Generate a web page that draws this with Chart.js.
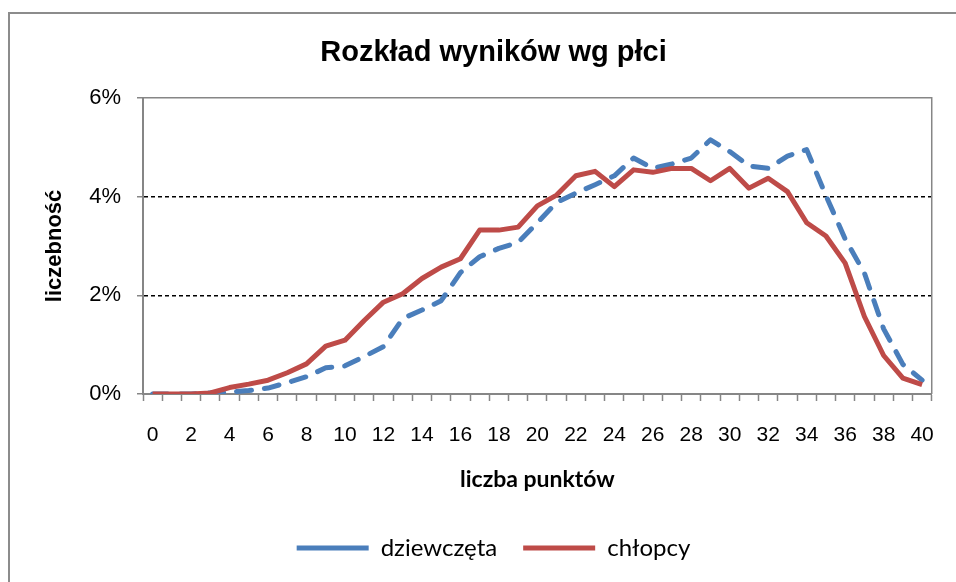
<!DOCTYPE html>
<html>
<head>
<meta charset="utf-8">
<script src="https://cdn.jsdelivr.net/npm/chart.js@4"></script>
<style>
  html, body { margin: 0; padding: 0; background: #fff; }
  #wrap { width: 956px; height: 582px; }
</style>
</head>
<body>
<div id="wrap"><canvas id="myChart" width="956" height="582"></canvas></div>
<script>
const points = [];
for (let i = 0; i <= 40; i++) points.push(String(i));

const girls = [0, 0, 0, 0.02, 0.04, 0.07, 0.12, 0.23, 0.35, 0.53,
    0.57, 0.76, 0.96, 1.53, 1.70, 1.89, 2.46, 2.78, 2.95, 3.07,
    3.47, 3.88, 4.07, 4.24, 4.42, 4.78, 4.57, 4.66, 4.78, 5.15,
    4.91, 4.62, 4.57, 4.82, 4.95, 4.02, 3.14, 2.45, 1.32, 0.60, 0.28];

const boys = [0, 0, 0, 0.02, 0.13, 0.20, 0.28, 0.43, 0.61, 0.97,
    1.09, 1.49, 1.86, 2.03, 2.34, 2.57, 2.74, 3.32, 3.32, 3.38,
    3.81, 4.03, 4.42, 4.51, 4.20, 4.54, 4.49, 4.57, 4.57, 4.32,
    4.57, 4.17, 4.37, 4.10, 3.47, 3.20, 2.65, 1.57, 0.78, 0.32, 0.19];

const yTicks = [0, 2, 4, 6];

const blue = '#4A7EBB';
const red = '#BE4B48';
const axisGray = '#868686';

// frame round the whole chart and the plot area
const frames = {
    id: 'frames',
    beforeDraw(chart) {
        const c = chart.ctx;
        c.save();
        c.fillStyle = '#fff';
        c.fillRect(0, 0, chart.width, chart.height);
        c.strokeStyle = '#8c8c8c';
        c.lineWidth = 2;
        c.strokeRect(9, 13, 1000, 1000);
        c.restore();
    },
    beforeDatasetsDraw(chart) {
        const a = chart.chartArea;
        const c = chart.ctx;
        c.save();
        c.strokeStyle = axisGray;
        c.lineWidth = 1.5;
        c.beginPath();
        c.moveTo(a.left, a.top);
        c.lineTo(a.right, a.top);
        c.lineTo(a.right, a.bottom);
        c.stroke();
        c.restore();
    }
};

const data = {
    labels: points,
    datasets: [{
        label: 'chłopcy',
        data: boys,
        borderColor: red,
        backgroundColor: red,
        borderWidth: 5,
        borderJoinStyle: 'round',
        pointRadius: 0,
        fill: false
    }, {
        label: 'dziewczęta',
        data: girls,
        borderColor: blue,
        backgroundColor: blue,
        borderWidth: 5,
        borderDash: [15, 13],
        borderCapStyle: 'round',
        borderJoinStyle: 'round',
        pointRadius: 0,
        fill: false
    }]
};

const config = {
    type: 'line',
    data: data,
    plugins: [frames],
    options: {
        responsive: false,
        animation: false,
        layout: {
            padding: { left: 48, right: 17, top: 0, bottom: 12 }
        },
        plugins: {
            title: {
                display: true,
                text: 'Rozkład wyników wg płci',
                color: '#000',
                font: { family: 'Liberation Sans, Arial', size: 29, weight: 'bold', lineHeight: 1.2 },
                padding: { top: 36, bottom: 27 }
            },
            legend: {
                position: 'bottom',
                labels: {
                    usePointStyle: true,
                    pointStyle: 'line',
                    pointStyleWidth: 72,
                    boxHeight: 20,
                    padding: 26,
                    color: '#000',
                    font: { family: 'Lato, Open Sans', size: 24 },
                    sort: (a, b) => b.datasetIndex - a.datasetIndex
                }
            },
            tooltip: { enabled: false }
        },
        scales: {
            x: {
                offset: true,
                afterFit: (scale) => { scale.height = 116; },
                grid: {
                    offset: true,
                    drawOnChartArea: false,
                    tickLength: 7,
                    tickColor: axisGray,
                    tickWidth: 1.5
                },
                border: { color: axisGray, width: 2 },
                ticks: {
                    autoSkip: false,
                    maxRotation: 0,
                    padding: 22,
                    color: '#000',
                    font: { family: 'Liberation Sans, Arial', size: 21 },
                    callback: function (v, i) {
                        return i % 2 === 0 ? this.getLabelForValue(v) : '';
                    }
                },
                title: {
                    display: true,
                    text: 'liczba punktów',
                    color: '#000',
                    font: { family: 'Lato, Open Sans', size: 23, weight: 'bold', lineHeight: 1.2 },
                    padding: { top: 0, bottom: 17 }
                }
            },
            y: {
                min: 0,
                max: 6,
                afterFit: (scale) => { scale.width = 95; },
                afterBuildTicks: (scale) => { scale.ticks = yTicks.map(v => ({ value: v })); },
                grid: {
                    color: (ctx) => (ctx.tick && (ctx.tick.value === 2 || ctx.tick.value === 4)) ? '#000' : 'rgba(0,0,0,0)',
                    lineWidth: 1.5,
                    tickLength: 6,
                    tickColor: axisGray,
                    tickWidth: 1.5
                },
                border: { color: axisGray, width: 2, dash: [4, 3] },
                ticks: {
                    padding: 16,
                    color: '#000',
                    font: { family: 'Liberation Sans, Arial', size: 22 },
                    callback: (v) => v + '%'
                },
                title: {
                    display: true,
                    text: 'liczebność',
                    color: '#000',
                    font: { family: 'Liberation Sans, Arial', size: 22, weight: 'bold', lineHeight: 1.2 },
                    padding: { top: -6, bottom: 10 }
                }
            }
        }
    }
};

const ctx = document.getElementById('myChart');
const chart = new Chart(ctx, config);
</script>
</body>
</html>
